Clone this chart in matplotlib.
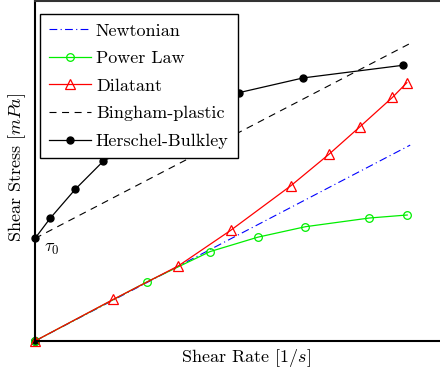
import numpy as np
import matplotlib.pyplot as plt

plt.rcParams.update({
    'font.family': 'serif',
    'font.serif': ['cmr10', 'DejaVu Serif'],
    'mathtext.fontset': 'cm',
    'axes.formatter.use_mathtext': True,
    'font.size': 13,
})

# shear rate / shear stress samples (arbitrary units)
newton_x = [0.0, 10.14]
newton_y = [0.0, 6.53]

power_x = [0.0, 3.04, 4.73, 6.02, 7.31, 9.04, 10.06]
power_y = [0.0, 1.98, 2.98, 3.46, 3.81, 4.10, 4.20]

dilat_x = [0.0, 2.12, 3.87, 5.29, 6.92, 7.95, 8.78, 9.66, 10.05]
dilat_y = [0.0, 1.39, 2.50, 3.69, 5.18, 6.23, 7.14, 8.12, 8.61]

bingham_x = [0.0, 10.14]
bingham_y = [3.42, 9.92]

hb_x = [0.0, 0.41, 1.09, 1.85, 5.52, 7.25, 9.94]
hb_y = [3.42, 4.09, 5.06, 6.00, 8.28, 8.77, 9.19]

origin_x = [0.0]
origin_y = [0.0]

tau0 = 3.42

fig = plt.figure(figsize=(4.4, 3.72), dpi=100)
ax = fig.add_axes([35/440, 31/372, 405/440, 340/372])

ax.plot(origin_x, origin_y, 'o', color='black', ms=5.5, clip_on=False, zorder=1.5)
ax.plot(newton_x, newton_y, color='#0000ff', ls=(0, (7, 3, 1, 3)), lw=0.8,
        label='Newtonian')
ax.plot(power_x, power_y, color='#00ee00', lw=0.9, marker='o', ms=5.5,
        mfc='none', mec='#00ee00', mew=0.9, label='Power Law', clip_on=False)
ax.plot(dilat_x, dilat_y, color='red', lw=0.9, marker='^', ms=6.5,
        mfc='none', mec='red', mew=0.9, label='Dilatant', clip_on=False)
ax.plot(bingham_x, bingham_y, color='black', ls=(0, (6.3, 5)), lw=0.8,
        label='Bingham-plastic')
ax.plot(hb_x, hb_y, color='black', lw=0.9, marker='o', ms=5,
        label='Herschel-Bulkley', clip_on=False)

ax.text(0.25, tau0 - 0.12, r'$\tau_0$', ha='left', va='top', fontsize=13)

ax.set_xlim(0, 405/37)
ax.set_ylim(0, 340/30)
ax.set_xticks([])
ax.set_yticks([])
ax.spines['right'].set_visible(False)
for s in ['left', 'bottom', 'top']:
    ax.spines[s].set_linewidth(1.5)
ax.spines['top'].set_color('#333333')

ax.set_xlabel(r'Shear Rate $[1/s]$')
ax.set_ylabel(r'Shear Stress $[mPa]$')
ax.xaxis.set_label_coords(0.52, -0.018)
ax.yaxis.set_label_coords(-0.018, 0.51)

leg = ax.legend(loc='upper left', bbox_to_anchor=(5/405, 1 - 13/340),
                borderaxespad=0, fancybox=False, framealpha=1,
                edgecolor='black', handlelength=2.3, labelspacing=0.66,
                borderpad=0.5, handletextpad=0.3)
leg.get_frame().set_linewidth(1.0)

fig.savefig('out.png', dpi=100)
